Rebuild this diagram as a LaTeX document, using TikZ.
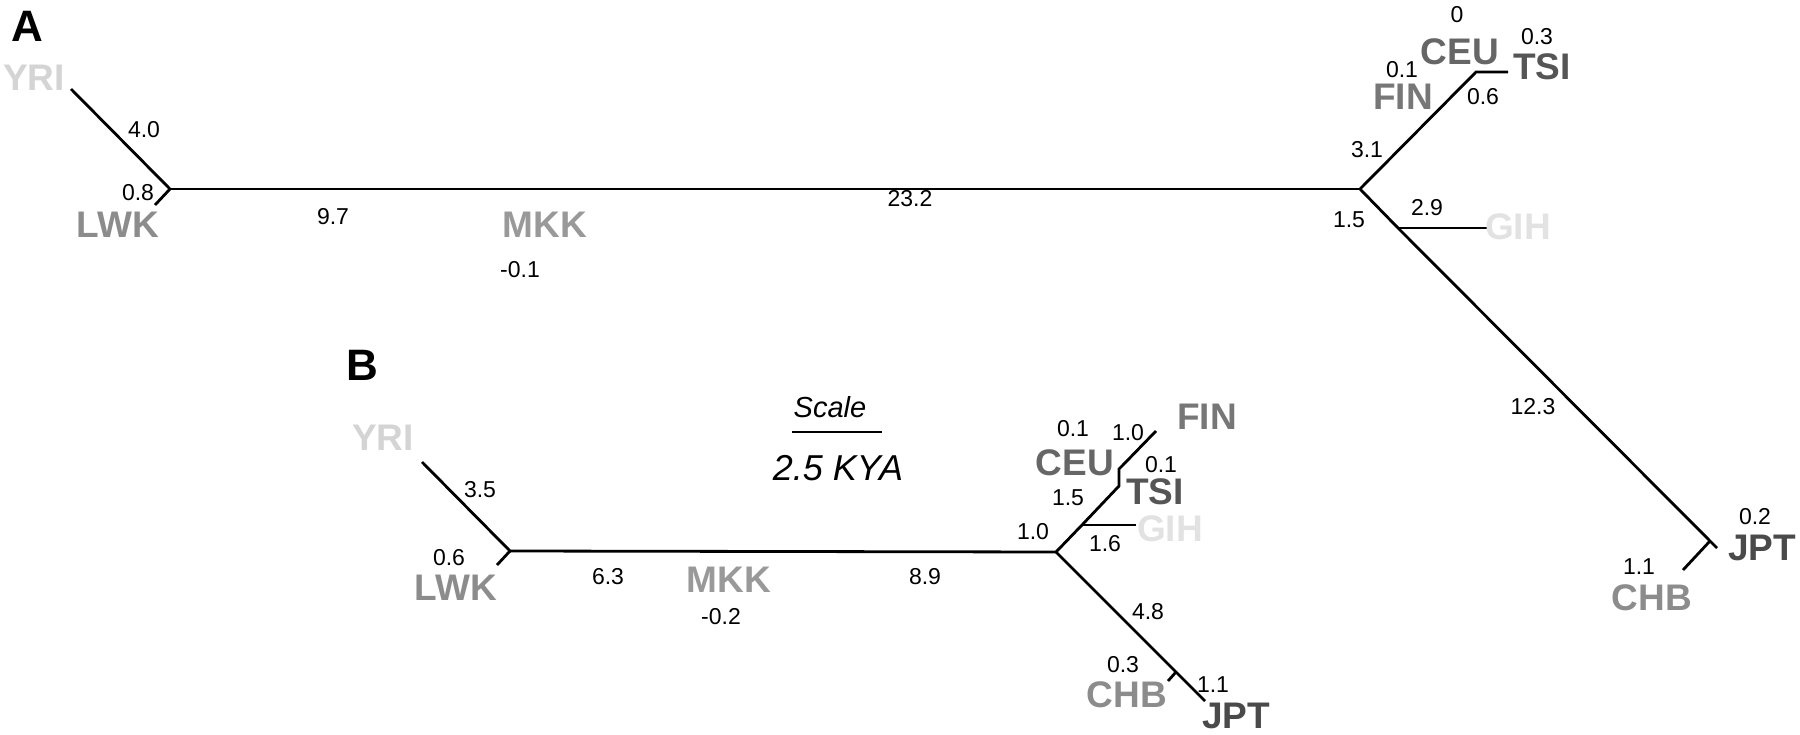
\documentclass[tikz,border=0pt]{standalone}
\usepackage{fontspec}
\setmainfont{Liberation Sans}
\definecolor{cYRI}{HTML}{D4D4D4}
\definecolor{cLWK}{HTML}{8C8C8C}
\definecolor{cMKK}{HTML}{999999}
\definecolor{cFIN}{HTML}{777777}
\definecolor{cCEU}{HTML}{666666}
\definecolor{cTSI}{HTML}{555555}
\definecolor{cGIH}{HTML}{E2E2E2}
\definecolor{cJPT}{HTML}{4A4A4A}
\definecolor{cCHB}{HTML}{8C8C8C}
\begin{document}
\begin{tikzpicture}[x=1pt,y=-1pt,
  branch/.style={line width=2.8pt},
  popl/.style={font=\fontsize{37}{40}\selectfont\bfseries, inner sep=0pt},
  numl/.style={font=\fontsize{23}{26}\selectfont, inner sep=0pt},
  panel/.style={font=\fontsize{44}{48}\selectfont\bfseries, inner sep=0pt},
  scalel/.style={font=\fontsize{29}{32}\selectfont\itshape, inner sep=0pt},
  kyal/.style={font=\fontsize{36}{40}\selectfont\itshape, inner sep=0pt}]
\useasboundingbox (0,0) rectangle (1800,735);
% ---------------- Panel A ----------------
\node[panel] (labA) at (27,26) {A};
\coordinate (aYRI) at (71,89);
\coordinate (aLW) at (170,189);
\coordinate (aLWK) at (155,205);
\coordinate (aEU) at (1360,189);
\coordinate (aCT) at (1476,72);
\coordinate (aTSI) at (1508,72);
\coordinate (aGJ) at (1398,228);
\coordinate (aGIH) at (1487,228);
\coordinate (aCJ) at (1710,541);
\coordinate (aJPT) at (1717,548);
\coordinate (aCHB) at (1683,570);
\draw[branch] (aYRI) -- (aLW) -- (aLWK);
\draw[branch] (aLW) -- (aEU);
\draw[branch] (aEU) -- (aCT) -- (aTSI);
\draw[branch] (aEU) -- (aGJ) -- (aCJ) -- (aJPT);
\draw[branch] (aGJ) -- (aGIH);
\draw[branch] (aCJ) -- (aCHB);
\node[popl, text=cYRI] (aYRIl) at (34,78) {YRI};
\node[numl] (an1) at (144,130) {4.0};
\node[numl] (an2) at (138,193) {0.8};
\node[popl, text=cLWK] (aLWKl) at (118,225) {LWK};
\node[numl] (an3) at (333,217) {9.7};
\node[popl, text=cMKK] (aMKKl) at (545,225) {MKK};
\node[numl] (an4) at (520,270) {-0.1};
\node[numl] (an5) at (910,199) {23.2};
\node[numl] (an6) at (1367,150) {3.1};
\node[popl, text=cFIN] (aFINl) at (1403,97) {FIN};
\node[numl] (an7) at (1402,70) {0.1};
\node[popl, text=cCEU] (aCEUl) at (1460,52) {CEU};
\node[numl] (an8) at (1457,15) {0};
\node[popl, text=cTSI] (aTSIl) at (1542,67) {TSI};
\node[numl] (an9) at (1537,37) {0.3};
\node[numl] (an10) at (1483,97) {0.6};
\node[numl] (an11) at (1349,220) {1.5};
\node[numl] (an12) at (1427,208) {2.9};
\node[popl, text=cGIH] (aGIHl) at (1518,227) {GIH};
\node[numl] (an13) at (1533,407) {12.3};
\node[numl] (an14) at (1755,517) {0.2};
\node[popl, text=cJPT] (aJPTl) at (1762,548) {JPT};
\node[numl] (an15) at (1639,567) {1.1};
\node[popl, text=cCHB] (aCHBl) at (1652,598) {CHB};
% ---------------- Panel B ----------------
\node[panel] (labB) at (362,365) {B};
\coordinate (bYRI) at (422,462);
\coordinate (bLW) at (510,551);
\coordinate (bLWK) at (497,565);
\coordinate (bEU) at (1056,552);
\coordinate (bGJ) at (1082,525);
\coordinate (bGIH) at (1136,525);
\coordinate (bTJ) at (1119,486);
\coordinate (bCJ) at (1119,469);
\coordinate (bJog) at (1122,466);
\coordinate (bFIN) at (1156,431);
\coordinate (bCH) at (1176,672);
\coordinate (bCHB) at (1168,681);
\coordinate (bJPT) at (1205,701);
\draw[branch] (bYRI) -- (bLW) -- (bLWK);
\draw[branch] (bLW) -- (bEU);
\draw[branch] (bEU) -- (bGJ) -- (bTJ) -- (bCJ) -- (bJog) -- (bFIN);
\draw[branch] (bGJ) -- (bGIH);
\draw[branch] (bEU) -- (bJPT);
\draw[branch] (bCH) -- (bCHB);
\node[popl, text=cYRI] (bYRIl) at (383,438) {YRI};
\node[numl] (bn1) at (480,490) {3.5};
\node[numl] (bn2) at (449,558) {0.6};
\node[popl, text=cLWK] (bLWKl) at (456,588) {LWK};
\node[numl] (bn3) at (608,577) {6.3};
\node[popl, text=cMKK] (bMKKl) at (729,580) {MKK};
\node[numl] (bn4) at (721,617) {-0.2};
\node[numl] (bn5) at (925,577) {8.9};
\node[numl] (bn6) at (1033,532) {1.0};
\node[numl] (bn7) at (1105,544) {1.6};
\node[popl, text=cGIH] (bGIHl) at (1170,529) {GIH};
\node[numl] (bn8) at (1068,498) {1.5};
\node[popl, text=cCEU] (bCEUl) at (1075,463) {CEU};
\node[numl] (bn9) at (1073,429) {0.1};
\node[numl] (bn10) at (1128,433) {1.0};
\node[numl] (bn11) at (1161,465) {0.1};
\node[popl, text=cTSI] (bTSIl) at (1155,492) {TSI};
\node[popl, text=cFIN] (bFINl) at (1207,417) {FIN};
\node[numl] (bn12) at (1148,612) {4.8};
\node[numl] (bn13) at (1123,665) {0.3};
\node[popl, text=cCHB] (bCHBl) at (1127,695) {CHB};
\node[numl] (bn14) at (1213,685) {1.1};
\node[popl, text=cJPT] (bJPTl) at (1236,716) {JPT};
% ---------------- Scale ----------------
\node[scalel] (scaleT) at (830,407) {Scale};
\coordinate (sL) at (792,432);
\coordinate (sR) at (882,432);
\draw[branch] (sL) -- (sR);
\node[kyal] (kya) at (838,468) {2.5 KYA};
\end{tikzpicture}
\end{document}
